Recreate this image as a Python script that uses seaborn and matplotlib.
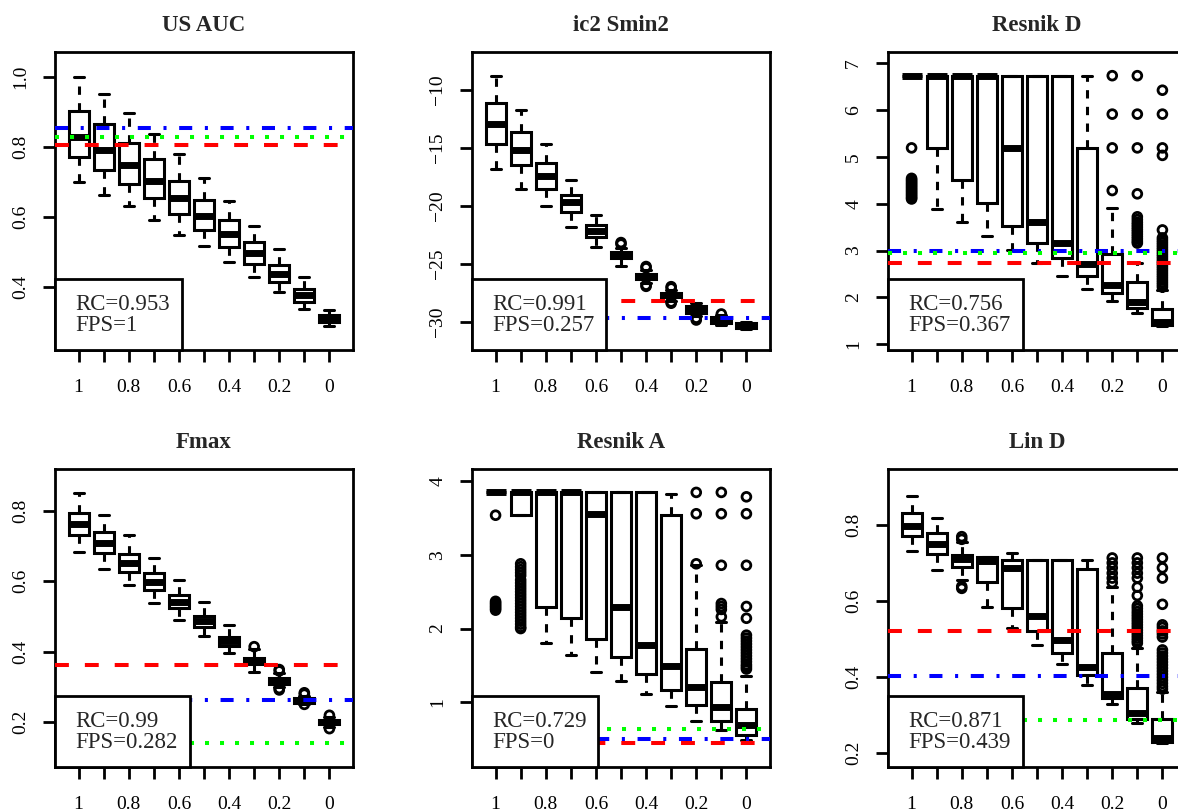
import numpy as np
import pandas as pd
import matplotlib
matplotlib.use('Agg')
import matplotlib.pyplot as plt
from matplotlib.patches import Rectangle
import seaborn as sns

# x axis: fraction of annotation kept, 11 boxes
pos = list(range(1, 12))
xlabels = ['1', '', '0.8', '', '0.6', '', '0.4', '', '0.2', '', '0']

# --- US AUC ---
usauc_lo  = [0.700, 0.663, 0.632, 0.592, 0.549, 0.516, 0.473, 0.428, 0.386, 0.337, 0.288]
usauc_q1  = [0.772, 0.735, 0.694, 0.654, 0.608, 0.563, 0.514, 0.466, 0.415, 0.358, 0.301]
usauc_med = [0.829, 0.791, 0.748, 0.703, 0.653, 0.603, 0.552, 0.496, 0.438, 0.378, 0.311]
usauc_q3  = [0.902, 0.864, 0.812, 0.765, 0.703, 0.649, 0.591, 0.530, 0.462, 0.394, 0.320]
usauc_hi  = [1.000, 0.949, 0.896, 0.836, 0.780, 0.712, 0.646, 0.574, 0.508, 0.428, 0.335]
usauc_out = [[], [], [], [], [], [], [], [], [], [], []]

# --- ic2 Smin2 ---
ic2_lo  = [-16.80, -18.53, -19.97, -21.79, -23.52, -25.16, -26.69, -28.18, -29.50, -30.29, -30.66]
ic2_q1  = [-14.64, -16.46, -18.53, -20.55, -22.65, -24.52, -26.34, -27.90, -29.22, -30.09, -30.52]
ic2_med = [-12.91, -15.16, -17.46, -19.63, -22.16, -24.24, -26.11, -27.69, -28.93, -29.86, -30.35]
ic2_q3  = [-11.12, -13.63, -16.31, -19.05, -21.64, -24.00, -25.88, -27.49, -28.65, -29.63, -30.14]
ic2_hi  = [-8.79, -11.70, -14.67, -17.75, -20.78, -23.66, -25.53, -27.26, -28.41, -29.45, -30.00]
ic2_out = [[], [], [], [], [], [-23.17, -23.30],
           [-25.24, -25.35, -26.85, -26.95],
           [-26.98, -27.10, -28.30, -28.41],
           [-29.70, -29.86], [-29.34], []]

# --- Resnik D ---
resd_lo  = [6.73, 3.88, 3.60, 3.31, 3.01, 2.74, 2.46, 2.17, 1.93, 1.66, 1.39]
resd_q1  = [6.73, 5.19, 4.51, 4.01, 3.53, 3.16, 2.84, 2.46, 2.10, 1.77, 1.41]
resd_med = [6.73, 6.73, 6.73, 6.73, 5.19, 3.60, 3.16, 2.71, 2.27, 1.91, 1.48]
resd_q3  = [6.73, 6.73, 6.73, 6.73, 6.73, 6.73, 6.73, 5.19, 2.93, 2.34, 1.75]
resd_hi  = [6.73, 6.73, 6.73, 6.73, 6.73, 6.73, 6.73, 6.73, 3.90, 2.73, 2.16]
resd_out = [[5.19, 4.54, 4.51, 4.48, 4.45, 4.42, 4.39, 4.36, 4.33, 4.30, 4.27,
             4.24, 4.21, 4.18, 4.15, 4.12, 4.10],
            [], [], [], [], [], [], [],
            [6.73, 5.91, 5.19, 4.28],
            [6.73, 5.91, 5.19, 4.21, 3.72, 3.66, 3.60, 3.55, 3.50, 3.45, 3.40,
             3.35, 3.30, 3.25, 3.20, 3.16],
            [6.42, 5.91, 5.19, 5.03, 3.44, 3.27, 3.22, 3.17, 3.12, 3.07, 3.02,
             2.97, 2.92, 2.87, 2.82, 2.77, 2.72, 2.67, 2.62, 2.57, 2.52, 2.47,
             2.42, 2.37, 2.32, 2.27, 2.22]]

# --- Fmax ---
fmax_lo  = [0.684, 0.635, 0.589, 0.539, 0.490, 0.444, 0.395, 0.342, 0.300, 0.252, 0.186]
fmax_q1  = [0.730, 0.679, 0.627, 0.575, 0.523, 0.471, 0.417, 0.366, 0.307, 0.254, 0.193]
fmax_med = [0.763, 0.708, 0.651, 0.599, 0.542, 0.487, 0.430, 0.376, 0.317, 0.260, 0.200]
fmax_q3  = [0.795, 0.739, 0.678, 0.622, 0.561, 0.501, 0.442, 0.383, 0.325, 0.267, 0.207]
fmax_hi  = [0.852, 0.789, 0.732, 0.666, 0.604, 0.542, 0.475, 0.406, 0.340, 0.275, 0.214]
fmax_out = [[], [], [], [], [], [], [], [0.414],
            [0.345, 0.349, 0.295, 0.291],
            [0.279, 0.283, 0.250],
            [0.219, 0.181]]

# --- Resnik A ---
resa_lo  = [3.85, 3.54, 1.81, 1.64, 1.41, 1.29, 1.11, 0.95, 0.74, 0.62, 0.48]
resa_q1  = [3.85, 3.54, 2.29, 2.14, 1.86, 1.62, 1.38, 1.16, 0.96, 0.75, 0.56]
resa_med = [3.85, 3.85, 3.85, 3.85, 3.55, 2.29, 1.78, 1.49, 1.20, 0.94, 0.69]
resa_q3  = [3.85, 3.85, 3.85, 3.85, 3.85, 3.85, 3.85, 3.54, 1.72, 1.28, 0.91]
resa_hi  = [3.85, 3.85, 3.85, 3.85, 3.85, 3.85, 3.85, 3.83, 2.86, 2.09, 1.35]
resa_out = [[3.54, 2.37, 2.35, 2.33, 2.31, 2.29, 2.27, 2.25],
            [2.88, 2.84, 2.80, 2.76, 2.72, 2.66, 2.62, 2.58, 2.54, 2.50, 2.46,
             2.42, 2.38, 2.34, 2.30, 2.26, 2.22, 2.18, 2.14, 2.10, 2.06, 2.02, 2.00],
            [], [], [], [], [], [],
            [3.85, 3.56, 2.88],
            [3.85, 3.56, 2.86, 2.34, 2.30, 2.26, 2.16],
            [3.79, 3.56, 2.86, 2.30, 2.14, 1.91, 1.87, 1.83, 1.79, 1.75, 1.71,
             1.67, 1.63, 1.59, 1.55, 1.51, 1.48, 1.45]]

# --- Lin D ---
lind_lo  = [0.732, 0.681, 0.655, 0.585, 0.528, 0.484, 0.434, 0.378, 0.328, 0.279, 0.226]
lind_q1  = [0.772, 0.723, 0.690, 0.649, 0.580, 0.522, 0.464, 0.405, 0.345, 0.289, 0.229]
lind_med = [0.797, 0.750, 0.710, 0.706, 0.686, 0.560, 0.497, 0.427, 0.356, 0.304, 0.238]
lind_q3  = [0.832, 0.778, 0.721, 0.715, 0.708, 0.708, 0.708, 0.684, 0.462, 0.372, 0.288]
lind_hi  = [0.876, 0.819, 0.755, 0.715, 0.727, 0.708, 0.708, 0.708, 0.636, 0.476, 0.360]
lind_out = [[], [],
            [0.769, 0.762, 0.638, 0.633],
            [], [], [], [], [],
            [0.713, 0.700, 0.687, 0.673, 0.660, 0.648],
            [0.713, 0.700, 0.687, 0.673, 0.660, 0.636, 0.614, 0.587, 0.580, 0.572,
             0.565, 0.558, 0.551, 0.544, 0.537, 0.530, 0.523, 0.516, 0.509, 0.502,
             0.495, 0.489],
            [0.713, 0.687, 0.660, 0.591, 0.537, 0.530, 0.521, 0.513, 0.505, 0.471,
             0.463, 0.455, 0.447, 0.439, 0.431, 0.423, 0.415, 0.407, 0.399, 0.391,
             0.383, 0.375, 0.368]]

titles = ['US AUC', 'ic2 Smin2', 'Resnik D', 'Fmax', 'Resnik A', 'Lin D']
rc_vals = ['0.953', '0.991', '0.756', '0.99', '0.729', '0.871']
fps_vals = ['1', '0.257', '0.367', '0.282', '0', '0.439']
# reference lines: red (dashed), blue (dot-dash), green (dotted); None = not shown
red_lines = [0.804, -28.24, 2.73, 0.363, 0.45, 0.522]
blue_lines = [0.853, -29.65, 3.00, 0.262, 0.50, 0.403]
green_lines = [0.828, None, 2.94, 0.140, 0.64, 0.286]
ylims = [(0.221, 1.070), (-32.45, -6.71), (0.879, 7.235),
         (0.072, 0.919), (0.119, 4.168), (0.163, 0.947)]
yticks = [[0.4, 0.6, 0.8, 1.0], [-30, -25, -20, -15, -10], [1, 2, 3, 4, 5, 6, 7],
          [0.2, 0.4, 0.6, 0.8], [1, 2, 3, 4], [0.2, 0.4, 0.6, 0.8]]
ytlabels = [['0.4', '0.6', '0.8', '1.0'], ['\u221230', '\u221225', '\u221220', '\u221215', '\u221210'],
            ['1', '2', '3', '4', '5', '6', '7'], ['0.2', '0.4', '0.6', '0.8'],
            ['1', '2', '3', '4'], ['0.2', '0.4', '0.6', '0.8']]
legend_w = [127, 134, 135, 135, 126, 135]

panels = [
    (usauc_lo, usauc_q1, usauc_med, usauc_q3, usauc_hi, usauc_out),
    (ic2_lo, ic2_q1, ic2_med, ic2_q3, ic2_hi, ic2_out),
    (resd_lo, resd_q1, resd_med, resd_q3, resd_hi, resd_out),
    (fmax_lo, fmax_q1, fmax_med, fmax_q3, fmax_hi, fmax_out),
    (resa_lo, resa_q1, resa_med, resa_q3, resa_hi, resa_out),
    (lind_lo, lind_q1, lind_med, lind_q3, lind_hi, lind_out),
]

sns.set_theme(style='ticks')
plt.rcParams['font.family'] = ['Liberation Serif', 'DejaVu Serif']
plt.rcParams['lines.scale_dashes'] = False
plt.rcParams['axes.linewidth'] = 2.0

W, H = 1178, 809
fig = plt.figure(figsize=(W / 100, H / 100), dpi=100)
lefts = [55, 472, 888]
tops = [52, 469]
side = 298

for k, (lo, q1, med, q3, hi, out) in enumerate(panels):
    r, c = divmod(k, 3)
    ax = fig.add_axes([lefts[c] / W, 1 - (tops[r] + side) / H, side / W, side / H])
    ax.set_facecolor('white')

    stats = [dict(whislo=lo[i], q1=q1[i], med=med[i], q3=q3[i], whishi=hi[i], fliers=[])
             for i in range(11)]
    ax.bxp(stats, positions=pos, widths=0.8, capwidths=0.4, showfliers=False,
           patch_artist=True, manage_ticks=False,
           boxprops=dict(facecolor='white', edgecolor='black', linewidth=2.2),
           medianprops=dict(color='black', linewidth=5.0, solid_capstyle='butt'),
           whiskerprops=dict(color='black', linewidth=2.2, linestyle=(0, (6, 6))),
           capprops=dict(color='black', linewidth=2.2))

    fl = pd.DataFrame([(p, v) for p, vals in zip(pos, out) for v in vals],
                      columns=['pos', 'val'])
    if len(fl):
        sns.scatterplot(data=fl, x='pos', y='val', ax=ax, marker='o', s=40,
                        facecolor='none', edgecolor='black', linewidth=2.0,
                        legend=False, zorder=3)

    if blue_lines[k] is not None:
        ax.axhline(blue_lines[k], color='#0000ff', lw=2.9, zorder=4,
                   linestyle=(0, (9.4, 9.1, 2.2, 9.1)))
    if green_lines[k] is not None:
        ax.axhline(green_lines[k], color='#00ff00', lw=2.9, zorder=4,
                   linestyle=(0, (2.9, 7.9)))
    if red_lines[k] is not None:
        ax.axhline(red_lines[k], color='#ff0000', lw=2.9, zorder=4,
                   linestyle=(0, (10, 11.5)))

    ax.set_xlim(0.06, 11.94)
    ax.set_ylim(*ylims[k])
    ax.set_xticks(pos)
    ax.set_xticklabels(xlabels)
    ax.set_yticks(yticks[k])
    ax.set_yticklabels(ytlabels[k], rotation=90, va='center')
    ax.tick_params(axis='both', direction='out', length=8.6, width=2.0,
                   labelsize=14, color='black', labelcolor='black')
    ax.tick_params(axis='x', pad=12)
    ax.tick_params(axis='y', pad=10)
    ax.set_xlabel('')
    ax.set_ylabel('')
    for sp in ax.spines.values():
        sp.set_visible(True)
        sp.set_color('black')
        sp.set_linewidth(2.0)
    ax.set_title(titles[k], fontsize=16.5, fontweight='bold', pad=15)

    # legend box with stats
    ax.add_patch(Rectangle((0, 0), legend_w[k] / side, 71 / side, transform=ax.transAxes,
                           facecolor='white', edgecolor='black', linewidth=2.0,
                           zorder=6, clip_on=False))
    ax.text(20 / side, 35 / side, f'RC={rc_vals[k]}\nFPS={fps_vals[k]}',
            transform=ax.transAxes, fontsize=16.5, va='center', ha='left',
            linespacing=0.95, zorder=7)

fig.savefig('out.png', dpi=100)
